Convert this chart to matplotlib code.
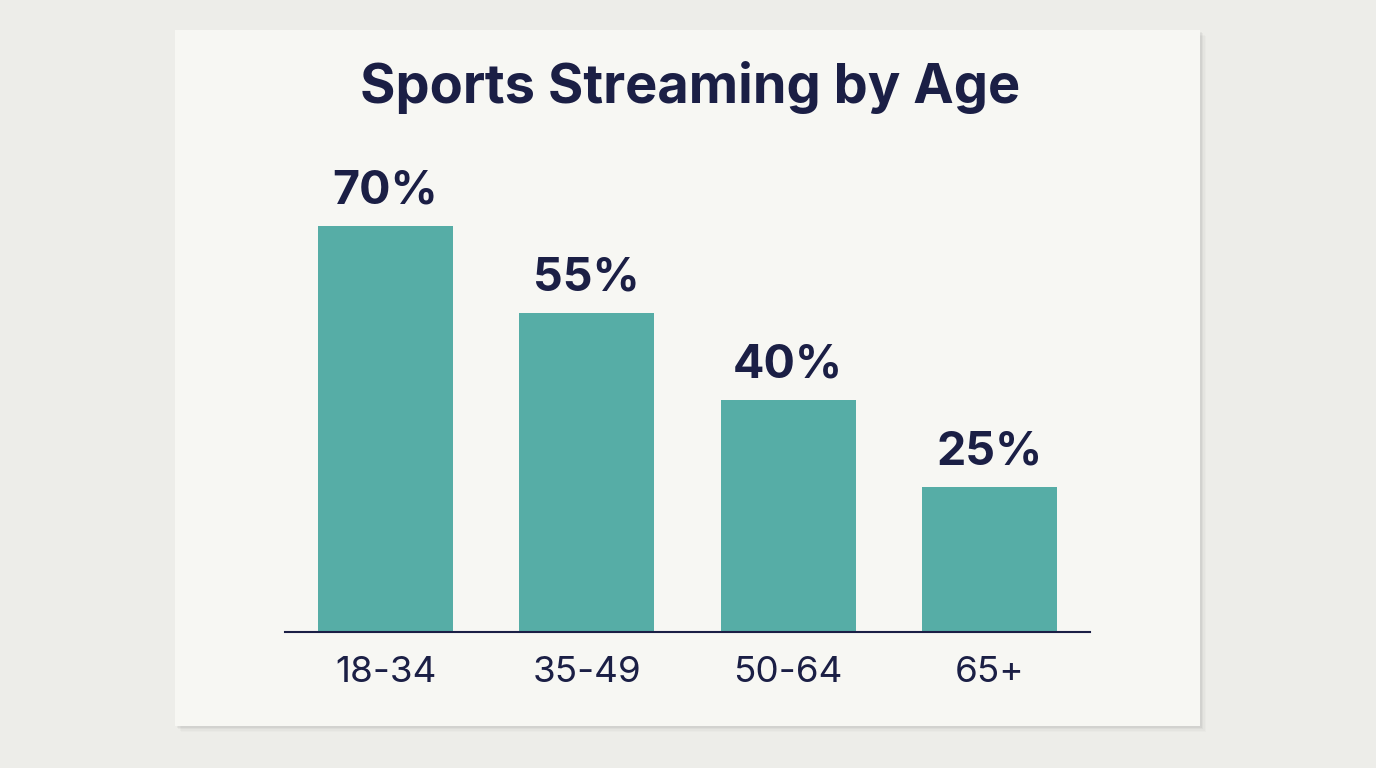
import matplotlib.pyplot as plt
from matplotlib.patches import Rectangle

# data
age_groups = ["18-34", "35-49", "50-64", "65+"]
share = [70, 55, 40, 25]

bg_color = "#EDEDE9"
card_color = "#F7F7F3"
bar_color = "#56ADA6"
ink = "#1B1F45"

plt.rcParams['font.family'] = ['Inter', 'DejaVu Sans']

fig = plt.figure(figsize=(13.76, 7.68), dpi=100)
fig.patch.set_facecolor(bg_color)

# card with a soft shadow
card_x, card_y, card_w, card_h = 175 / 1376, 42 / 768, 1025 / 1376, 696 / 768
for i, a in enumerate([0.04, 0.03, 0.02, 0.015]):
    off = (i + 1) * 1.5
    fig.patches.append(Rectangle((card_x + off / 1376, card_y - off / 768), card_w, card_h,
                                 transform=fig.transFigure, facecolor="black", alpha=a,
                                 edgecolor="none", zorder=0))
fig.patches.append(Rectangle((card_x, card_y), card_w, card_h, transform=fig.transFigure,
                             facecolor=card_color, edgecolor="none", zorder=1))

ax = fig.add_axes([285 / 1376, 136 / 768, 805 / 1376, 472 / 768])
ax.set_facecolor("none")
ax.set_zorder(2)

x = range(len(age_groups))
bars = ax.bar(x, share, width=0.67, color=bar_color)
ax.set_xlim(-0.5, 3.5)
ax.set_ylim(0, 472 / 5.8)

for b, v in zip(bars, share):
    ax.annotate(f"{v}%", (b.get_x() + b.get_width() / 2, v), xytext=(0, 9),
                textcoords="offset points", ha="center", va="bottom",
                fontsize=33.5, fontweight="bold", color=ink)

for s in ["top", "right", "left"]:
    ax.spines[s].set_visible(False)
ax.spines["bottom"].set_color(ink)
ax.spines["bottom"].set_linewidth(1.5)
ax.set_yticks([])
ax.set_xticks(list(x))
ax.set_xticklabels(age_groups, fontsize=26.5, color=ink)
ax.tick_params(axis="x", length=0, pad=17)

fig.text(690 / 1376, 1 - 88 / 768, "Sports Streaming by Age", ha="center", va="center",
         fontsize=39, fontweight="bold", color=ink)

fig.savefig("out.png", dpi=100, facecolor=bg_color)
